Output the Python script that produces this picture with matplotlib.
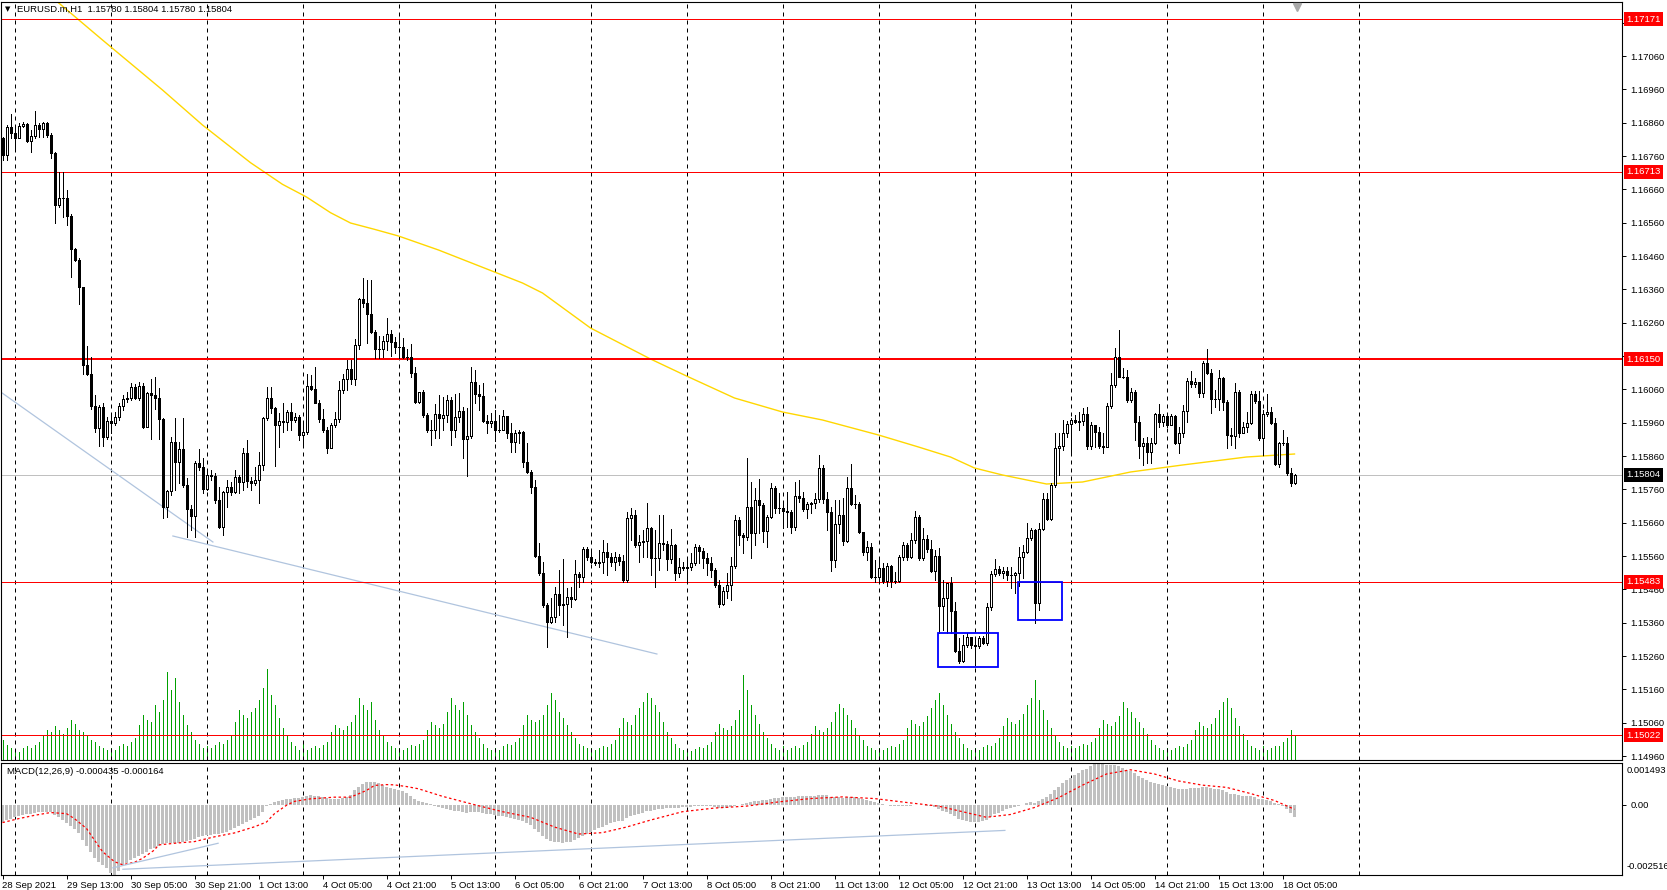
import matplotlib
matplotlib.use("Agg")
import matplotlib.pyplot as plt
from matplotlib.patches import Rectangle
from matplotlib.collections import PatchCollection, LineCollection
import matplotlib.transforms as mtransforms

plt.rcParams["font.family"] = ["Liberation Sans", "DejaVu Sans"]

W, H = 1667, 890
FS = 6.8

TITLE = "EURUSD.m,H1  1.15780 1.15804 1.15780 1.15804"
MACD_TITLE = "MACD(12,26,9) -0.000435 -0.000164"

# hourly bars, 28 Sep 21:00 .. 18 Oct 08:00
first_open = 1.16814
closes = [
    1.16763, 1.16847, 1.16829, 1.16814, 1.16850, 1.16856, 1.16805, 1.16820, 1.16853, 1.16841,
    1.16859, 1.16823, 1.16769, 1.16613, 1.16634, 1.16634, 1.16580, 1.16481, 1.16448, 1.16367,
    1.16133, 1.16106, 1.16010, 1.15944, 1.16007, 1.15917, 1.15965, 1.15959, 1.15977, 1.16010,
    1.16031, 1.16034, 1.16067, 1.16034, 1.16070, 1.15947, 1.16049, 1.16043, 1.16034, 1.15971,
    1.15707, 1.15755, 1.15902, 1.15842, 1.15881, 1.15773, 1.15701, 1.15680, 1.15839, 1.15827,
    1.15761, 1.15803, 1.15800, 1.15728, 1.15647, 1.15752, 1.15767, 1.15752, 1.15797, 1.15782,
    1.15869, 1.15785, 1.15779, 1.15788, 1.15833, 1.15974, 1.16034, 1.16004, 1.15953, 1.15965,
    1.15962, 1.15992, 1.15968, 1.15977, 1.15923, 1.15932, 1.16070, 1.16061, 1.16019, 1.15971,
    1.15938, 1.15884, 1.15953, 1.15971, 1.16058, 1.16091, 1.16121, 1.16091, 1.16193, 1.16331,
    1.16319, 1.16286, 1.16232, 1.16181, 1.16181, 1.16205, 1.16226, 1.16202, 1.16187, 1.16187,
    1.16157, 1.16157, 1.16109, 1.16022, 1.16052, 1.15983, 1.15938, 1.15938, 1.15986, 1.15974,
    1.15983, 1.16028, 1.15938, 1.15977, 1.15995, 1.15911, 1.15920, 1.16082, 1.16046, 1.16040,
    1.15965, 1.15959, 1.15965, 1.15938, 1.15938, 1.15980, 1.15929, 1.15902, 1.15929, 1.15932,
    1.15842, 1.15812, 1.15767, 1.15560, 1.15509, 1.15413, 1.15362, 1.15377, 1.15446, 1.15413,
    1.15416, 1.15437, 1.15431, 1.15506, 1.15497, 1.15581, 1.15557, 1.15542, 1.15539, 1.15542,
    1.15572, 1.15557, 1.15542, 1.15557, 1.15545, 1.15488, 1.15674, 1.15683, 1.15593, 1.15602,
    1.15605, 1.15644, 1.15554, 1.15554, 1.15599, 1.15596, 1.15551, 1.15593, 1.15509, 1.15527,
    1.15524, 1.15527, 1.15539, 1.15587, 1.15575, 1.15554, 1.15539, 1.15518, 1.15473, 1.15416,
    1.15455, 1.15473, 1.15530, 1.15668, 1.15623, 1.15617, 1.15707, 1.15629, 1.15728, 1.15713,
    1.15635, 1.15677, 1.15764, 1.15704, 1.15704, 1.15695, 1.15692, 1.15647, 1.15740, 1.15734,
    1.15701, 1.15716, 1.15719, 1.15731, 1.15824, 1.15731, 1.15692, 1.15548, 1.15656, 1.15683,
    1.15605, 1.15764, 1.15716, 1.15716, 1.15632, 1.15572, 1.15587, 1.15497, 1.15497, 1.15524,
    1.15485, 1.15530, 1.15485, 1.15485, 1.15557, 1.15593, 1.15557, 1.15608, 1.15677, 1.15554,
    1.15611, 1.15581, 1.15515, 1.15560, 1.15410, 1.15434, 1.15479, 1.15395, 1.15275, 1.15245,
    1.15293, 1.15317, 1.15293, 1.15290, 1.15314, 1.15299, 1.15407, 1.15506, 1.15521, 1.15509,
    1.15515, 1.15503, 1.15503, 1.15509, 1.15557, 1.15572, 1.15614, 1.15638, 1.15419, 1.15641,
    1.15731, 1.15671, 1.15773, 1.15884, 1.15890, 1.15929, 1.15956, 1.15968, 1.15962, 1.15965,
    1.15986, 1.15890, 1.15953, 1.15932, 1.15890, 1.15887, 1.16010, 1.16073, 1.16157, 1.16097,
    1.16097, 1.16028, 1.16052, 1.15962, 1.15890, 1.15899, 1.15872, 1.15899, 1.15986, 1.15962,
    1.15980, 1.15953, 1.15980, 1.15899, 1.15929, 1.15995, 1.16085, 1.16076, 1.16082, 1.16049,
    1.16139, 1.16109, 1.16031, 1.16031, 1.16094, 1.16022, 1.15923, 1.15920, 1.16052, 1.15929,
    1.15947, 1.15959, 1.16046, 1.16025, 1.15914, 1.15986, 1.15992, 1.15959, 1.15836, 1.15899,
    1.15899, 1.15809, 1.15779, 1.15804,
]
highs = [
    1.16817, 1.16853, 1.16886, 1.16853, 1.16859, 1.16862, 1.16859, 1.16838, 1.16895, 1.16859,
    1.16862, 1.16862, 1.16829, 1.16772, 1.16712, 1.16712, 1.16658, 1.16586, 1.16484, 1.16454,
    1.16367, 1.16190, 1.16157, 1.16043, 1.16013, 1.16019, 1.15977, 1.15983, 1.15992, 1.16019,
    1.16043, 1.16052, 1.16079, 1.16076, 1.16082, 1.16079, 1.16052, 1.16091, 1.16097, 1.16064,
    1.15974, 1.15758, 1.15917, 1.15974, 1.15902, 1.15974, 1.15794, 1.15713, 1.15845, 1.15881,
    1.15854, 1.15821, 1.15818, 1.15809, 1.15767, 1.15755, 1.15788, 1.15782, 1.15818, 1.15803,
    1.15884, 1.15908, 1.15797, 1.15827, 1.15872, 1.15977, 1.16067, 1.16067, 1.16007, 1.15989,
    1.16019, 1.15998, 1.16019, 1.15989, 1.15983, 1.15962, 1.16106, 1.16103, 1.16127, 1.16028,
    1.16001, 1.15947, 1.15959, 1.15992, 1.16085, 1.16106, 1.16148, 1.16148, 1.16211, 1.16334,
    1.16394, 1.16388, 1.16388, 1.16238, 1.16220, 1.16220, 1.16274, 1.16238, 1.16217, 1.16229,
    1.16214, 1.16181, 1.16196, 1.16127, 1.16052, 1.16058, 1.15989, 1.15968, 1.16016, 1.16043,
    1.16037, 1.16043, 1.16037, 1.16046, 1.16049, 1.16007, 1.16004, 1.16127, 1.16118, 1.16073,
    1.16079, 1.15983, 1.15989, 1.15998, 1.15983, 1.15998, 1.15965, 1.15959, 1.15938, 1.15938,
    1.15935, 1.15899, 1.15818, 1.15788, 1.15599, 1.15542, 1.15419, 1.15434, 1.15467, 1.15518,
    1.15551, 1.15464, 1.15467, 1.15548, 1.15512, 1.15587, 1.15587, 1.15572, 1.15551, 1.15578,
    1.15608, 1.15599, 1.15569, 1.15572, 1.15566, 1.15563, 1.15692, 1.15704, 1.15698, 1.15623,
    1.15638, 1.15719, 1.15647, 1.15638, 1.15683, 1.15683, 1.15605, 1.15641, 1.15596, 1.15554,
    1.15542, 1.15551, 1.15569, 1.15596, 1.15593, 1.15584, 1.15569, 1.15557, 1.15524, 1.15488,
    1.15467, 1.15509, 1.15557, 1.15683, 1.15677, 1.15629, 1.15854, 1.15782, 1.15764, 1.15791,
    1.15719, 1.15683, 1.15779, 1.15770, 1.15749, 1.15719, 1.15752, 1.15698, 1.15782, 1.15788,
    1.15752, 1.15722, 1.15722, 1.15749, 1.15863, 1.15833, 1.15752, 1.15707, 1.15728, 1.15728,
    1.15734, 1.15797, 1.15836, 1.15743, 1.15722, 1.15632, 1.15605, 1.15599, 1.15548, 1.15554,
    1.15539, 1.15539, 1.15533, 1.15512, 1.15563, 1.15602, 1.15599, 1.15629, 1.15695, 1.15683,
    1.15644, 1.15623, 1.15608, 1.15578, 1.15584, 1.15488, 1.15479, 1.15497, 1.15422, 1.15314,
    1.15323, 1.15329, 1.15317, 1.15317, 1.15320, 1.15320, 1.15419, 1.15515, 1.15551, 1.15530,
    1.15527, 1.15527, 1.15527, 1.15512, 1.15587, 1.15593, 1.15659, 1.15644, 1.15641, 1.15659,
    1.15749, 1.15749, 1.15779, 1.15929, 1.15929, 1.15968, 1.15965, 1.15974, 1.15983, 1.15992,
    1.16004, 1.16007, 1.15962, 1.15950, 1.15947, 1.15929, 1.16019, 1.16109, 1.16184, 1.16238,
    1.16124, 1.16118, 1.16064, 1.16058, 1.15980, 1.15914, 1.15917, 1.15914, 1.15989, 1.16016,
    1.15986, 1.15989, 1.15986, 1.15983, 1.15947, 1.16013, 1.16094, 1.16115, 1.16094, 1.16079,
    1.16145, 1.16181, 1.16121, 1.16058, 1.16118, 1.16097, 1.16028, 1.15944, 1.16079, 1.16058,
    1.15962, 1.15992, 1.16055, 1.16055, 1.16055, 1.15998, 1.16046, 1.16007, 1.15974, 1.15902,
    1.15938, 1.15917, 1.15824, 1.15806,
]
lows = [
    1.16748, 1.16748, 1.16814, 1.16784, 1.16814, 1.16847, 1.16802, 1.16772, 1.16814, 1.16817,
    1.16817, 1.16817, 1.16754, 1.16559, 1.16607, 1.16577, 1.16553, 1.16397, 1.16445, 1.16316,
    1.16106, 1.16103, 1.16001, 1.15932, 1.15890, 1.15890, 1.15911, 1.15929, 1.15953, 1.15968,
    1.15998, 1.16022, 1.16028, 1.16031, 1.16028, 1.15944, 1.15947, 1.15911, 1.16001, 1.15911,
    1.15674, 1.15677, 1.15743, 1.15758, 1.15779, 1.15767, 1.15617, 1.15638, 1.15617, 1.15818,
    1.15749, 1.15758, 1.15788, 1.15719, 1.15644, 1.15623, 1.15707, 1.15743, 1.15749, 1.15749,
    1.15758, 1.15767, 1.15758, 1.15773, 1.15719, 1.15818, 1.15968, 1.15989, 1.15830, 1.15887,
    1.15932, 1.15938, 1.15938, 1.15962, 1.15908, 1.15887, 1.15926, 1.16058, 1.16019, 1.15962,
    1.15932, 1.15869, 1.15884, 1.15947, 1.15962, 1.16049, 1.16058, 1.16076, 1.16073, 1.16181,
    1.16307, 1.16199, 1.16229, 1.16154, 1.16154, 1.16157, 1.16178, 1.16160, 1.16169, 1.16154,
    1.16154, 1.16148, 1.16097, 1.16019, 1.16019, 1.15977, 1.15932, 1.15893, 1.15914, 1.15914,
    1.15938, 1.15962, 1.15893, 1.15917, 1.15962, 1.15854, 1.15800, 1.15914, 1.16019, 1.15998,
    1.15962, 1.15929, 1.15947, 1.15905, 1.15932, 1.15947, 1.15914, 1.15872, 1.15872, 1.15899,
    1.15827, 1.15809, 1.15749, 1.15557, 1.15503, 1.15407, 1.15287, 1.15359, 1.15362, 1.15383,
    1.15353, 1.15317, 1.15407, 1.15428, 1.15467, 1.15482, 1.15548, 1.15539, 1.15533, 1.15527,
    1.15509, 1.15503, 1.15530, 1.15518, 1.15533, 1.15482, 1.15482, 1.15608, 1.15587, 1.15542,
    1.15557, 1.15557, 1.15503, 1.15467, 1.15518, 1.15578, 1.15518, 1.15539, 1.15488, 1.15497,
    1.15518, 1.15482, 1.15518, 1.15533, 1.15539, 1.15524, 1.15503, 1.15497, 1.15467, 1.15407,
    1.15413, 1.15434, 1.15428, 1.15524, 1.15593, 1.15569, 1.15608, 1.15554, 1.15593, 1.15629,
    1.15602, 1.15587, 1.15674, 1.15689, 1.15689, 1.15644, 1.15647, 1.15629, 1.15638, 1.15722,
    1.15695, 1.15674, 1.15689, 1.15704, 1.15722, 1.15719, 1.15638, 1.15515, 1.15527, 1.15629,
    1.15593, 1.15602, 1.15713, 1.15704, 1.15629, 1.15563, 1.15548, 1.15494, 1.15482, 1.15482,
    1.15479, 1.15470, 1.15467, 1.15479, 1.15482, 1.15548, 1.15548, 1.15554, 1.15599, 1.15548,
    1.15548, 1.15572, 1.15512, 1.15488, 1.15329, 1.15338, 1.15329, 1.15329, 1.15272, 1.15239,
    1.15242, 1.15287, 1.15284, 1.15233, 1.15284, 1.15296, 1.15293, 1.15398, 1.15500, 1.15503,
    1.15494, 1.15488, 1.15464, 1.15449, 1.15470, 1.15494, 1.15569, 1.15608, 1.15359, 1.15398,
    1.15638, 1.15668, 1.15668, 1.15767, 1.15803, 1.15878, 1.15917, 1.15863, 1.15959, 1.15938,
    1.15953, 1.15881, 1.15881, 1.15887, 1.15884, 1.15869, 1.15887, 1.16004, 1.16067, 1.16097,
    1.16094, 1.16022, 1.16022, 1.15908, 1.15854, 1.15833, 1.15839, 1.15839, 1.15896, 1.15947,
    1.15950, 1.15947, 1.15965, 1.15896, 1.15869, 1.15917, 1.15962, 1.16067, 1.16067, 1.16037,
    1.16037, 1.16106, 1.15989, 1.16007, 1.15998, 1.15998, 1.15884, 1.15893, 1.15884, 1.15917,
    1.15929, 1.15932, 1.15956, 1.16019, 1.15908, 1.15863, 1.15980, 1.15956, 1.15833, 1.15827,
    1.15893, 1.15803, 1.15770, 1.15776,
]

# tick volume per bar (relative units), one row per trading day
tick_volume = [
    20, 15, 12,
    10, 8, 12, 14, 12, 15, 18, 25, 30, 28, 34, 30, 26, 32, 40, 36, 30, 28, 24, 20, 18, 14, 12, 10,
    12, 10, 14, 16, 14, 18, 22, 35, 45, 40, 38, 55, 48, 60, 88, 70, 82, 58, 45, 35, 28, 20, 16, 12,
    14, 12, 15, 18, 16, 20, 25, 38, 50, 45, 42, 48, 52, 60, 72, 91, 65, 55, 42, 32, 25, 18, 14, 10,
    18, 10, 12, 14, 12, 15, 18, 28, 35, 32, 30, 34, 38, 45, 62, 55, 50, 58, 40, 30, 24, 18, 14, 12,
    12, 10, 12, 15, 14, 16, 20, 30, 38, 35, 32, 36, 48, 62, 55, 50, 58, 45, 35, 28, 22, 16, 12, 10,
    12, 10, 14, 16, 15, 18, 22, 35, 45, 40, 38, 40, 45, 55, 67, 60, 48, 42, 35, 28, 22, 16, 14, 12,
    12, 10, 12, 14, 13, 16, 20, 32, 42, 38, 35, 45, 52, 58, 67, 62, 55, 48, 38, 28, 22, 16, 12, 10,
    10, 9, 11, 13, 12, 15, 18, 28, 36, 32, 30, 34, 40, 50, 85, 70, 55, 45, 36, 28, 22, 16, 12, 10,
    14, 10, 12, 14, 12, 15, 18, 26, 34, 30, 28, 32, 38, 48, 56, 52, 45, 40, 32, 25, 20, 14, 12, 10,
    12, 10, 12, 14, 13, 16, 20, 32, 40, 36, 34, 38, 44, 52, 60, 67, 55, 45, 36, 28, 22, 16, 12, 10,
    12, 10, 13, 15, 14, 17, 22, 34, 42, 38, 36, 40, 46, 55, 62, 80, 60, 50, 40, 32, 25, 18, 14, 12,
    14, 12, 14, 16, 15, 18, 22, 32, 40, 36, 34, 38, 44, 58, 52, 48, 42, 38, 32, 26, 20, 15, 12, 10,
    12, 10, 12, 14, 13, 16, 20, 30, 38, 34, 32, 36, 42, 50, 58, 62, 52, 42, 34, 26, 20, 14, 12, 10,
    14, 10, 12, 14, 14, 18, 22, 30, 24,
]

# MACD(12,26,9) main histogram per bar
macd_main = [
    -0.000615, -0.000556, -0.000497, -0.000438, -0.000390, -0.000355, -0.000331, -0.000319, -0.000296, -0.000272,
    -0.000260, -0.000260, -0.000272, -0.000355, -0.000438, -0.000532, -0.000639, -0.000745, -0.000887, -0.001029,
    -0.001278, -0.001479, -0.001704, -0.001893, -0.002035, -0.002141, -0.002280, -0.002450, -0.002516, -0.002360,
    -0.002165, -0.002094, -0.001987, -0.001905, -0.001822, -0.001751, -0.001680, -0.001597, -0.001538, -0.001467,
    -0.001420, -0.001384, -0.001384, -0.001384, -0.001360, -0.001337, -0.001301, -0.001266, -0.001218, -0.001171,
    -0.001124, -0.001088, -0.001076, -0.001053, -0.001041, -0.001006, -0.000970, -0.000899, -0.000828, -0.000757,
    -0.000686, -0.000615, -0.000544, -0.000473, -0.000402, -0.000260, -0.000047, 0.000035, 0.000095, 0.000142,
    0.000177, 0.000201, 0.000213, 0.000225, 0.000248, 0.000284, 0.000319, 0.000331, 0.000319, 0.000296,
    0.000272, 0.000237, 0.000213, 0.000213, 0.000213, 0.000237, 0.000272, 0.000355, 0.000509, 0.000627,
    0.000757, 0.000828, 0.000828, 0.000816, 0.000781, 0.000722, 0.000651, 0.000592, 0.000556, 0.000532,
    0.000473, 0.000402, 0.000319, 0.000213, 0.000142, 0.000100, 0.000060, 0.000020, -0.000030, -0.000080,
    -0.000120, -0.000150, -0.000190, -0.000220, -0.000240, -0.000270, -0.000290, -0.000260, -0.000250, -0.000260,
    -0.000290, -0.000320, -0.000350, -0.000380, -0.000400, -0.000420, -0.000450, -0.000490, -0.000520, -0.000550,
    -0.000600, -0.000660, -0.000730, -0.000860, -0.000980, -0.001110, -0.001240, -0.001300, -0.001330, -0.001350,
    -0.001360, -0.001350, -0.001320, -0.001260, -0.001200, -0.001120, -0.001040, -0.000970, -0.000900, -0.000840,
    -0.000780, -0.000720, -0.000670, -0.000620, -0.000580, -0.000570, -0.000480, -0.000400, -0.000360, -0.000320,
    -0.000280, -0.000230, -0.000210, -0.000190, -0.000160, -0.000140, -0.000130, -0.000110, -0.000110, -0.000100,
    -0.000090, -0.000080, -0.000070, -0.000050, -0.000040, -0.000040, -0.000040, -0.000050, -0.000070, -0.000100,
    -0.000110, -0.000110, -0.000090, -0.000030, 0.000000, 0.000020, 0.000070, 0.000090, 0.000130, 0.000150,
    0.000160, 0.000180, 0.000210, 0.000230, 0.000250, 0.000260, 0.000270, 0.000270, 0.000290, 0.000300,
    0.000300, 0.000310, 0.000310, 0.000320, 0.000350, 0.000350, 0.000330, 0.000280, 0.000270, 0.000270,
    0.000250, 0.000280, 0.000280, 0.000270, 0.000240, 0.000200, 0.000170, 0.000120, 0.000080, 0.000050,
    0.000010, -0.000010, -0.000040, -0.000060, -0.000060, -0.000050, -0.000050, -0.000040, -0.000010, -0.000020,
    -0.000020, -0.000030, -0.000060, -0.000070, -0.000150, -0.000220, -0.000260, -0.000320, -0.000420, -0.000510,
    -0.000560, -0.000590, -0.000610, -0.000620, -0.000610, -0.000600, -0.000540, -0.000440, -0.000350, -0.000280,
    -0.000220, -0.000170, -0.000130, -0.000090, -0.000040, 0.000000, 0.000050, 0.000100, 0.000060, 0.000130,
    0.000220, 0.000290, 0.000390, 0.000520, 0.000640, 0.000760, 0.000870, 0.000960, 0.001050, 0.001140,
    0.001230, 0.001290, 0.001380, 0.001440, 0.001493, 0.001460, 0.001420, 0.001410, 0.001420, 0.001380,
    0.001330, 0.001260, 0.001200, 0.001120, 0.001030, 0.000950, 0.000870, 0.000810, 0.000770, 0.000730,
    0.000700, 0.000670, 0.000650, 0.000600, 0.000560, 0.000550, 0.000580, 0.000590, 0.000600, 0.000590,
    0.000620, 0.000630, 0.000600, 0.000560, 0.000550, 0.000520, 0.000450, 0.000400, 0.000400, 0.000350,
    0.000320, 0.000300, 0.000300, 0.000280, 0.000220, 0.000190, 0.000170, 0.000140, 0.000060, 0.000020,
    -0.000030, -0.000150, -0.000290, -0.000435,
]

# MACD signal line, read at a set of bars
signal_bars = [0, 4, 8, 12, 16, 18, 21, 23, 25, 27, 28, 30, 33, 35, 38, 39, 43, 48, 53, 58,
               63, 66, 68, 71, 73, 77, 83, 87, 89, 91, 93, 96, 98, 101, 104, 110, 118, 125,
               132, 138, 144, 150, 156, 162, 170, 178, 186, 194, 202, 210, 218, 226, 234,
               240, 246, 252, 258, 264, 270, 276, 282, 288, 294, 300, 306, 312, 318, 323]
signal_vals = [-0.00064, -0.00050, -0.00038, -0.00028, -0.00032, -0.00050, -0.00085, -0.00127,
               -0.00168, -0.00192, -0.00204, -0.00215, -0.00206, -0.00192, -0.00162, -0.00144,
               -0.00138, -0.00132, -0.00115, -0.00101, -0.00079, -0.00062, -0.00032, -0.00002,
               0.00012, 0.00021, 0.00027, 0.00027, 0.00039, 0.00051, 0.00069, 0.00072, 0.00071,
               0.00065, 0.00057, 0.00030, 0.00000, -0.00025, -0.00045, -0.00080, -0.00105,
               -0.00100, -0.00080, -0.00055, -0.00025, -0.00012, -0.00005, 0.00010, 0.00022,
               0.00028, 0.00022, 0.00008, -0.00005, -0.00025, -0.00045, -0.00035, -0.00010,
               0.00025, 0.00070, 0.00110, 0.00125, 0.00110, 0.00085, 0.00070, 0.00062, 0.00040,
               0.00015, -0.000164]

# 200 MA (yellow), read at a few bars
ma_bars = [12, 25, 40, 50, 62, 70, 76, 82, 87, 93, 99, 109, 123, 130, 135, 147, 162, 171,
           183, 195, 205, 219, 229, 237, 243, 250, 261, 270, 282, 295, 311, 323]
ma_vals = [1.17240, 1.17108, 1.16958, 1.16853, 1.16740, 1.16675, 1.16637, 1.16590,
           1.16559, 1.16540, 1.16520, 1.16478, 1.16412, 1.16379, 1.16349, 1.16244,
           1.16151, 1.16100, 1.16034, 1.15992, 1.15968, 1.15923, 1.15887, 1.15857,
           1.15824, 1.15803, 1.15776, 1.15782, 1.15812, 1.15833, 1.15857, 1.15866]

levels = [1.17171, 1.16713, 1.16150, 1.15483, 1.15022]
level_lw = [0.72, 0.72, 1.44, 0.72, 0.72]
last_price = 1.15804

trend_x = [(-0.1, 52.6), (42.6, 163.6)]
trend_y = [(1.16049, 1.15602), (1.15620, 1.15266)]
macd_trend_x = [(27.6, 53.9), (30.1, 250.6)]
macd_trend_y = [(-0.00226, -0.00138), (-0.00231, -0.00092)]
boxes = [(233.9, 248.9, 1.15227, 1.15329), (253.9, 264.9, 1.15368, 1.15482)]

xlabels = ["28 Sep 2021", "29 Sep 13:00", "30 Sep 05:00", "30 Sep 21:00", "1 Oct 13:00",
           "4 Oct 05:00", "4 Oct 21:00", "5 Oct 13:00", "6 Oct 05:00", "6 Oct 21:00",
           "7 Oct 13:00", "8 Oct 05:00", "8 Oct 21:00", "11 Oct 13:00", "12 Oct 05:00",
           "12 Oct 21:00", "13 Oct 13:00", "14 Oct 05:00", "14 Oct 21:00", "15 Oct 13:00",
           "18 Oct 05:00"]
day_starts = [3 + 24 * k for k in range(15)]
price_ticks = [1.14960 + 0.001 * k for k in range(23)]
hidden_ticks = [1.16160, 1.17160]  # covered by the level tags


def px_rect(x0, y0, x1, y1):
    return [x0 / W, 1 - y1 / H, (x1 - x0) / W, (y1 - y0) / H]


def main():
    fig = plt.figure(figsize=(W / 100, H / 100), dpi=100)
    ax = fig.add_axes(px_rect(1, 2, 1622, 760))
    axm = fig.add_axes(px_rect(1, 763, 1622, 875))

    xlim = (-0.375, 404.875)
    n = len(closes)
    opens = [first_open] + closes[:-1]

    # volumes at the bottom of the price window
    axv = ax.twinx()
    axv.set_ylim(0, 758)
    axv.set_axis_off()
    axv.vlines(range(n), 0, tick_volume, colors="#00A000", lw=0.72, antialiased=False)

    # wicks
    segs = []
    for i in range(n):
        hi = max(highs[i], opens[i], closes[i])
        lo = min(lows[i], opens[i], closes[i])
        segs.append([(i, lo), (i, hi)])
    ax.add_collection(LineCollection(segs, colors="black", linewidths=0.72,
                                     antialiaseds=False, zorder=3))
    # bodies
    rects, faces = [], []
    for i in range(n):
        o, c = opens[i], closes[i]
        rects.append(Rectangle((i - 0.25, min(o, c)), 0.5, abs(c - o)))
        faces.append("white" if c >= o else "black")
    ax.add_collection(PatchCollection(rects, facecolors=faces, edgecolors="black",
                                      linewidths=0.72, antialiaseds=False, zorder=4))

    ax.plot(ma_bars, ma_vals, color="#FFD700", lw=1.0, zorder=2)

    for lv, lw in zip(levels, level_lw):
        ax.axhline(lv, color="#FF0000", lw=lw, zorder=2.5)
    ax.axhline(last_price, color="#C0C0C0", lw=0.72, zorder=1.5)

    for tx, ty in zip(trend_x, trend_y):
        ax.plot(tx, ty, color="#B0C4DE", lw=0.9, zorder=2)

    for x0, x1, y0, y1 in boxes:
        ax.add_patch(Rectangle((x0, y0), x1 - x0, y1 - y0, fill=False,
                               edgecolor="#0000FF", lw=1.3, zorder=5))

    for a in (ax, axm, axv):
        a.set_xlim(*xlim)
    for a in (ax, axm):
        for d in day_starts:
            a.axvline(d, color="black", lw=0.72, ls=(0, (4, 4)), zorder=1)
        for s in a.spines.values():
            s.set_linewidth(0.8)
            s.set_color("black")
    ax.set_zorder(axv.get_zorder() + 1)
    ax.patch.set_visible(False)

    ax.set_ylim(1.14948, 1.17222)
    ax.set_xticks([])
    ax.yaxis.tick_right()
    ax.set_yticks(price_ticks)
    ax.set_yticklabels(["" if any(abs(p - h) < 1e-7 for h in hidden_ticks) else f"{p:.5f}"
                        for p in price_ticks])
    ax.tick_params(axis="y", direction="out", length=3, width=0.7, pad=3,
                   labelsize=FS, colors="black")

    ytr = ax.get_yaxis_transform()
    for lv in levels:
        ax.text(1.0025, lv, f"{lv:.5f}", transform=ytr, ha="left", va="center",
                color="white", fontsize=FS, zorder=10, clip_on=False,
                bbox=dict(boxstyle="square,pad=0.25", fc="#FF0000", ec="none"))
    ax.text(1.0025, last_price, f"{last_price:.5f}", transform=ytr, ha="left",
            va="center", color="white", fontsize=FS, zorder=10, clip_on=False,
            bbox=dict(boxstyle="square,pad=0.25", fc="black", ec="none"))

    ax.plot([323.6], [0.994], marker="v", color="#A8A8A8", ms=6,
            transform=mtransforms.blended_transform_factory(ax.transData, ax.transAxes),
            clip_on=False, zorder=6)

    fig.text(5 / W, 1 - 9 / H, "\u25bc", fontsize=5, color="black",
             va="center", ha="left", family="DejaVu Sans")
    fig.text(17 / W, 1 - 9 / H, TITLE, fontsize=FS, color="black",
             va="center", ha="left")

    # MACD window
    axm.bar(range(n), macd_main, width=0.75, color="#C0C0C0", lw=0,
            antialiased=False, zorder=2)
    axm.plot(signal_bars, signal_vals, color="#FF0000", lw=0.9, ls=(0, (2, 2)), zorder=3)
    for tx, ty in zip(macd_trend_x, macd_trend_y):
        axm.plot(tx, ty, color="#B0C4DE", lw=0.9, zorder=3)
    axm.set_ylim(-0.002516, 0.001493)
    axm.yaxis.tick_right()
    axm.set_yticks([0.0])
    axm.set_yticklabels(["0.00"])
    axm.tick_params(axis="y", direction="out", length=3, width=0.7, pad=3,
                    labelsize=FS)
    axm.text(1.003, 0.93, "0.001493", transform=axm.transAxes, ha="left",
             va="center", fontsize=FS)
    axm.text(1.003, 0.08, "-0.002516", transform=axm.transAxes, ha="left",
             va="center", fontsize=FS)
    fig.text(7 / W, 1 - 771 / H, MACD_TITLE, fontsize=FS, va="center", ha="left")

    axm.set_xticks([16 * k for k in range(len(xlabels))])
    axm.set_xticklabels(xlabels)
    axm.tick_params(axis="x", direction="out", length=3, width=0.7, pad=1,
                    labelsize=FS)
    for lbl in axm.get_xticklabels():
        lbl.set_ha("left")

    fig.savefig("out.png", dpi=100, facecolor="white")
    plt.close(fig)


if __name__ == "__main__":
    main()
